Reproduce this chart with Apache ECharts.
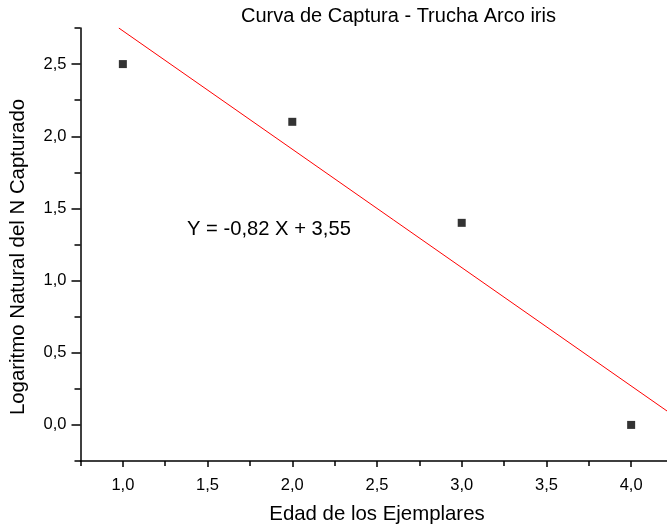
<!DOCTYPE html>
<html>
<head>
<meta charset="utf-8">
<script src="https://cdn.jsdelivr.net/npm/echarts@6/dist/echarts.min.js"></script>
<style>
html,body{margin:0;padding:0;background:#fff;}
#chart{width:667px;height:531px;}
</style>
</head>
<body>
<div id="chart"></div>
<script>
// Data
const titleText = 'Curva de Captura - Trucha Arco iris';
const xName = 'Edad de los Ejemplares';
const yName = 'Logaritmo Natural del N Capturado';
const equationText = 'Y = -0,82 X + 3,55';

const edad = [1, 2, 3, 4];
const logN = [2.5, 2.1, 1.4, 0.0];

// fitted line endpoints (as seen in the picture, clipped at plot edges)
const fitX = [0.976, 4.25];
const fitY = [2.75, 0.065];

const xMajorTicks = [1.0, 1.5, 2.0, 2.5, 3.0, 3.5, 4.0];
const xMinorTicks = [0.75, 1.25, 1.75, 2.25, 2.75, 3.25, 3.75, 4.25];
const yMajorTicks = [0.0, 0.5, 1.0, 1.5, 2.0, 2.5];
const yMinorTicks = [-0.25, 0.25, 0.75, 1.25, 1.75, 2.25, 2.75];

const FONT = '"Liberation Sans", Arial, sans-serif';
const fmt = v => v.toFixed(1).replace('.', ',');

const chart = echarts.init(document.getElementById('chart'), null, {renderer: 'canvas'});

const xBase = {
  type: 'value', min: 0.75, max: 4.25, position: 'bottom', gridIndex: 0,
  splitLine: {show: false}
};
const yBase = {
  type: 'value', min: -0.25, max: 2.75, position: 'left', gridIndex: 0,
  splitLine: {show: false}
};

chart.setOption({
  animation: false,
  backgroundColor: '#ffffff',
  title: {
    text: titleText, left: 241, top: 6, padding: 0,
    textStyle: {fontFamily: FONT, fontSize: 20, fontWeight: 'normal', color: '#000'}
  },
  grid: {left: 80.5, width: 593, top: 28, bottom: 70, containLabel: false, outerBoundsMode: 'none'},
  xAxis: [
    Object.assign({}, xBase, {
      name: xName, nameLocation: 'middle', nameGap: 43,
      nameTextStyle: {fontFamily: FONT, fontSize: 20.4, color: '#000'},
      axisLine: {show: true, onZero: false, lineStyle: {color: '#000', width: 1.5}},
      axisTick: {show: true, inside: false, length: 6, customValues: xMajorTicks, lineStyle: {color: '#000', width: 1.5}},
      axisLabel: {show: true, margin: 16, customValues: xMajorTicks, formatter: fmt,
        fontFamily: FONT, fontSize: 16.5, color: '#000'}
    }),
    Object.assign({}, xBase, {
      axisLine: {show: false, onZero: false},
      axisTick: {show: true, inside: false, length: 5, customValues: xMinorTicks, lineStyle: {color: '#000', width: 1.5}},
      axisLabel: {show: false}
    })
  ],
  yAxis: [
    Object.assign({}, yBase, {
      axisLine: {show: true, onZero: false, lineStyle: {color: '#000', width: 1.5}},
      axisTick: {show: true, inside: false, length: 9, customValues: yMajorTicks, lineStyle: {color: '#000', width: 1.5}},
      axisLabel: {show: true, margin: 14, customValues: yMajorTicks, formatter: fmt,
        fontFamily: FONT, fontSize: 16.5, color: '#000'}
    }),
    Object.assign({}, yBase, {
      axisLine: {show: false, onZero: false},
      axisTick: {show: true, inside: false, length: 6, customValues: yMinorTicks, lineStyle: {color: '#000', width: 1.5}},
      axisLabel: {show: false}
    })
  ],
  graphic: [
    {
      type: 'text', x: 18, y: 257, rotation: Math.PI / 2,
      style: {text: yName, fontFamily: FONT, fontSize: 20.4, fill: '#000', align: 'center', verticalAlign: 'middle'}
    },
    {
      type: 'text', x: 187, y: 229.5,
      style: {text: equationText, fontFamily: FONT, fontSize: 20.2, fill: '#000', align: 'left', verticalAlign: 'middle'}
    }
  ],
  series: [
    {
      type: 'line', xAxisIndex: 0, yAxisIndex: 0,
      data: fitX.map((x, i) => [x, fitY[i]]),
      showSymbol: false, symbol: 'none', clip: true,
      lineStyle: {color: '#ff0000', width: 1}
    },
    {
      type: 'scatter', xAxisIndex: 0, yAxisIndex: 0,
      data: edad.map((x, i) => [x, logN[i]]),
      symbol: 'rect', symbolSize: 8,
      itemStyle: {color: '#000'}
    }
  ]
});
</script>
</body>
</html>
